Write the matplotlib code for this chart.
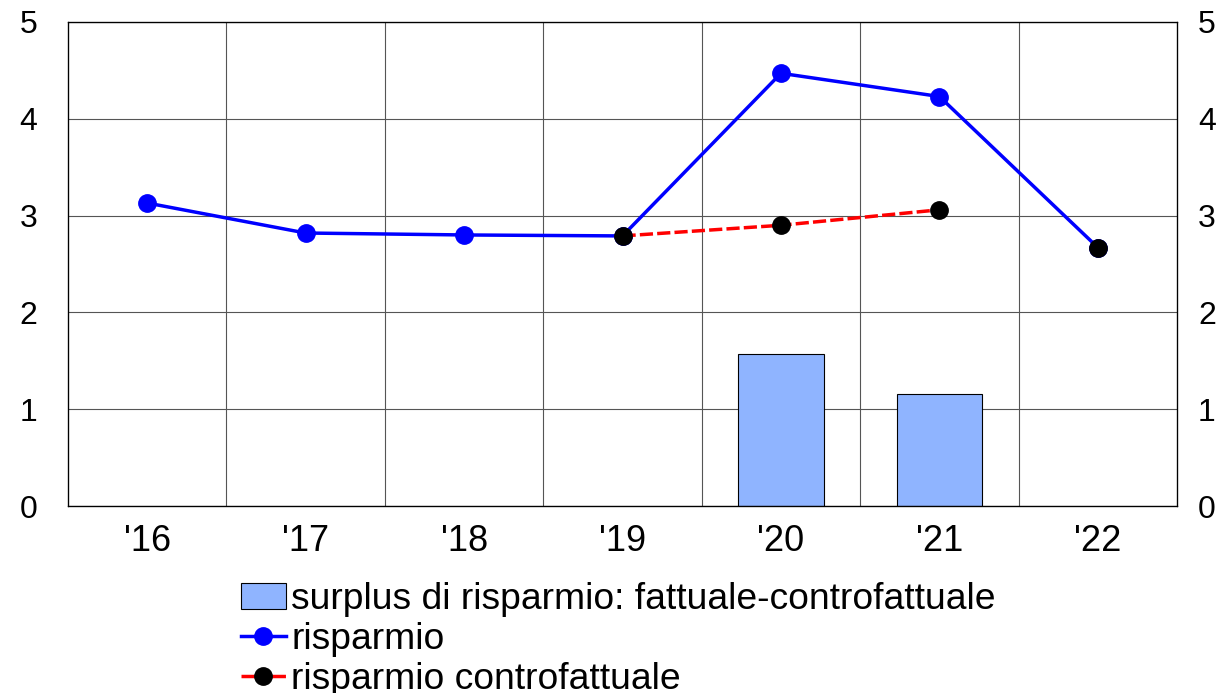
import numpy as np
import matplotlib
matplotlib.use("Agg")
import matplotlib.pyplot as plt

plt.rcParams['font.family'] = ['Liberation Sans', 'DejaVu Sans']

# dati
anni = ["'16", "'17", "'18", "'19", "'20", "'21", "'22"]
surplus = [np.nan, np.nan, np.nan, np.nan, 1.57, 1.16, np.nan]
risparmio = [3.13, 2.82, 2.80, 2.79, 4.47, 4.23, 2.67]
contro_linea = [np.nan, np.nan, np.nan, 2.79, 2.90, 3.06, np.nan]
contro_punti = [np.nan, np.nan, np.nan, 2.79, 2.90, 3.06, 2.67]

x = np.arange(len(anni))

fig = plt.figure(figsize=(12.27, 6.93), dpi=100)
ax = fig.add_axes([0.0554, 0.2698, 0.9039, 0.6985])

b = ax.bar(x, surplus, width=0.54, color='#8FB4FF', edgecolor='black', linewidth=0.8,
           label="surplus di risparmio: fattuale-controfattuale", zorder=2)
l1, = ax.plot(x, risparmio, '-', color='#0000FF', lw=2.5, marker='o', ms=12.5,
              label="risparmio", zorder=3)
ax.plot(x, contro_linea, '--', color='#FF0000', lw=2.5, dashes=(3.8, 1.2), zorder=4)
ax.plot(x, contro_punti, 'o', color='black', ms=12.5, zorder=5)
# handle legenda per la serie controfattuale
l2, = ax.plot([], [], '--', color='#FF0000', lw=2.5, dashes=(4, 4.8),
              marker='o', mfc='black', mec='black', ms=12.5,
              label="risparmio controfattuale")

ax.set_xlim(-0.5, len(anni) - 0.5)
ax.set_ylim(0, 5)
ax.set_yticks(range(0, 6))
ax.set_xticks(x)
ax.set_xticklabels(anni)
ax.set_xticks(np.arange(0.5, len(anni) - 1, 1), minor=True)
ax.grid(True, axis='y', which='major', color='#555555', lw=0.8, zorder=0)
ax.grid(True, axis='x', which='minor', color='#555555', lw=0.8, zorder=0)
ax.tick_params(axis='both', which='both', length=0)
ax.tick_params(axis='y', labelsize=23, pad=22)
ax.tick_params(axis='x', labelsize=26, pad=13)
for sp in ax.spines.values():
    sp.set_color('black')
    sp.set_linewidth(0.9)

ax2 = ax.twinx()
ax2.set_ylim(0, 5)
ax2.set_yticks(range(0, 6))
ax2.tick_params(axis='y', length=0, labelsize=23, pad=15)

fig.legend([b, l1, l2], [b.get_label(), l1.get_label(), l2.get_label()],
           loc='upper left', bbox_to_anchor=(241 / 1227, 1 - 582 / 693),
           frameon=False, fontsize=26.8, handlelength=1.2, handletextpad=0.15,
           labelspacing=0.14, borderpad=0, borderaxespad=0)

fig.savefig("out.png", dpi=100)
